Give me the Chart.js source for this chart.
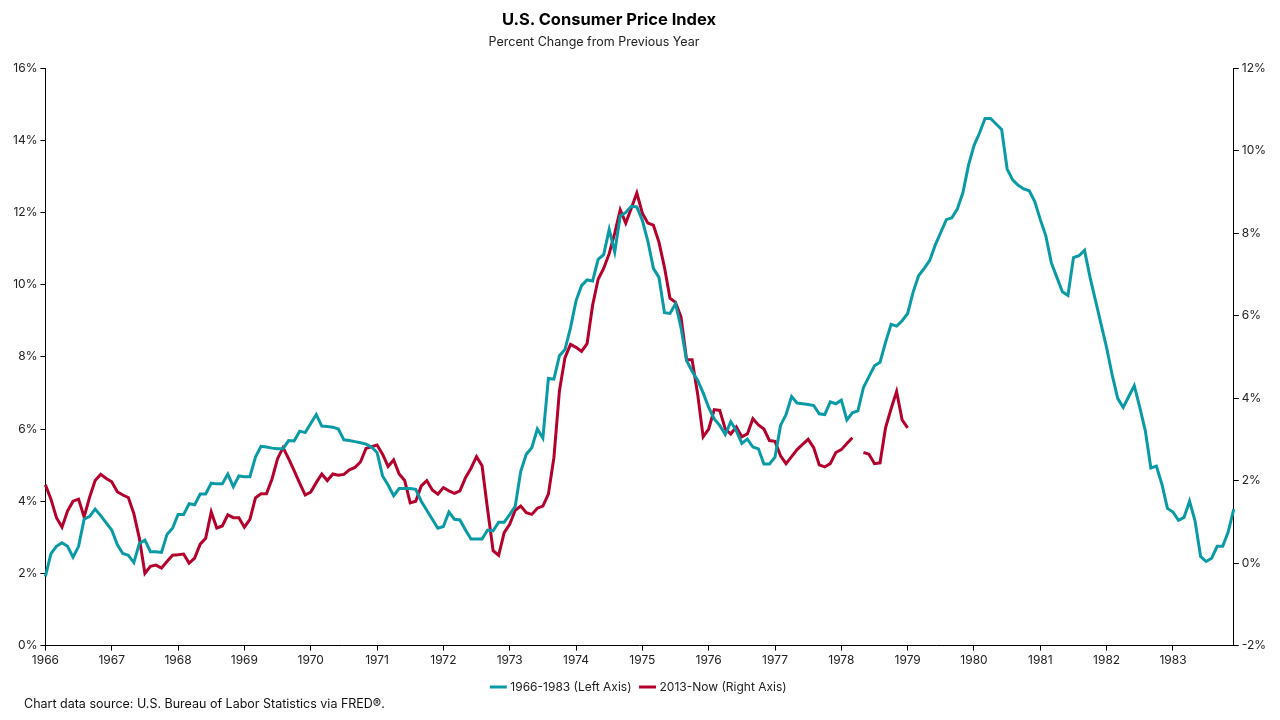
<!DOCTYPE html>
<html>
<head>
<meta charset="utf-8">
<script src="https://cdn.jsdelivr.net/npm/chart.js@4.4.1/dist/chart.umd.min.js"></script>
<style>
  html, body { margin: 0; padding: 0; background: #fff; }
  #wrap { position: relative; width: 1280px; height: 720px; }
  #titulo { position: absolute; left: 409px; width: 400px; top: 9px; text-align: center; font: bold 16.5px Inter, sans-serif; color: #000; }
  #subtitulo { position: absolute; left: 394px; width: 400px; top: 34px; text-align: center; font: 12.5px Inter, sans-serif; color: #222; }
  #fuente { position: absolute; left: 24px; top: 696px; font: 12.5px Inter, sans-serif; color: #111; }
</style>
</head>
<body>
<div id="wrap">
  <canvas id="cpiChart" width="1280" height="720"></canvas>
  <div id="titulo">U.S. Consumer Price Index</div>
  <div id="subtitulo">Percent Change from Previous Year</div>
  <div id="fuente">Chart data source: U.S. Bureau of Labor Statistics via FRED®.</div>
</div>
<script>
// ================= DATOS =================
const anios = [];
for (let a = 1966; a <= 1983; a++) anios.push(a);

// 1966-1983, variación anual (%), mensual
const serie1966 = [
  1.92, 2.55, 2.75, 2.85, 2.75, 2.45, 2.75, 3.5, 3.58, 3.78, 3.6, 3.4,
  3.2, 2.8, 2.55, 2.5, 2.3, 2.83, 2.92, 2.6, 2.6, 2.58, 3.08, 3.25,
  3.63, 3.63, 3.93, 3.9, 4.2, 4.2, 4.5, 4.48, 4.48, 4.75, 4.4, 4.7,
  4.68, 4.68, 5.22, 5.52, 5.5, 5.47, 5.45, 5.45, 5.68, 5.67, 5.94, 5.9,
  6.15, 6.4, 6.08, 6.07, 6.05, 6.0, 5.7, 5.68, 5.65, 5.62, 5.58, 5.5,
  5.35, 4.7, 4.45, 4.15, 4.35, 4.35, 4.35, 4.33, 4.0, 3.75, 3.5, 3.25,
  3.3, 3.7, 3.5, 3.48, 3.2, 2.95, 2.95, 2.95, 3.2, 3.18, 3.42, 3.42,
  3.63, 3.86, 4.83, 5.3, 5.48, 6.0, 5.75, 7.4, 7.38, 8.03, 8.2, 8.8,
  9.55, 9.97, 10.13, 10.1, 10.7, 10.83, 11.53, 10.9, 11.9, 12.0, 12.17, 12.15,
  11.78, 11.2, 10.45, 10.2, 9.22, 9.2, 9.47, 8.8, 7.9, 7.6, 7.35, 7.0,
  6.6, 6.28, 6.1, 5.85, 6.2, 5.95, 5.6, 5.72, 5.5, 5.45, 5.03, 5.03,
  5.22, 6.1, 6.4, 6.9, 6.72, 6.7, 6.68, 6.65, 6.42, 6.4, 6.75, 6.7,
  6.8, 6.25, 6.45, 6.5, 7.15, 7.45, 7.75, 7.85, 8.4, 8.9, 8.85, 9.0,
  9.2, 9.8, 10.25, 10.45, 10.67, 11.1, 11.45, 11.8, 11.85, 12.1, 12.55, 13.3,
  13.85, 14.2, 14.6, 14.6, 14.45, 14.3, 13.2, 12.9, 12.75, 12.65, 12.6, 12.3,
  11.8, 11.35, 10.6, 10.2, 9.8, 9.7, 10.75, 10.8, 10.95, 10.2, 9.55, 8.9,
  8.25, 7.5, 6.85, 6.6, 6.9, 7.2, 6.6, 5.95, 4.92, 4.97, 4.47, 3.8,
  3.7, 3.47, 3.55, 4.0, 3.45, 2.47, 2.33, 2.42, 2.75, 2.75, 3.15, 3.78
];

// 2013-hoy, variación anual (%), mensual (null = dato faltante)
const serie2013 = [
  1.9, 1.55, 1.1, 0.87, 1.26, 1.5, 1.55, 1.12, 1.6, 2.0, 2.15, 2.05,
  1.97, 1.73, 1.65, 1.59, 1.2, 0.6, -0.25, -0.08, -0.05, -0.12, 0.04, 0.19,
  0.2, 0.22, 0.0, 0.12, 0.46, 0.6, 1.24, 0.85, 0.9, 1.17, 1.1, 1.1,
  0.87, 1.06, 1.58, 1.68, 1.68, 2.04, 2.53, 2.8, 2.53, 2.24, 1.94, 1.65,
  1.72, 1.95, 2.16, 2.0, 2.16, 2.13, 2.15, 2.26, 2.32, 2.45, 2.78, 2.82,
  2.86, 2.64, 2.34, 2.5, 2.16, 2.0, 1.46, 1.5, 1.87, 2.0, 1.77, 1.67,
  1.83, 1.75, 1.69, 1.75, 2.07, 2.3, 2.58, 2.36, 1.3, 0.3, 0.19, 0.74,
  0.94, 1.28, 1.38, 1.22, 1.18, 1.33, 1.38, 1.67, 2.56, 4.18, 4.98, 5.3,
  5.23, 5.13, 5.32, 6.25, 6.88, 7.14, 7.5, 8.0, 8.56, 8.24, 8.6, 8.97,
  8.48, 8.24, 8.19, 7.78, 7.17, 6.42, 6.32, 5.96, 4.93, 4.93, 4.1, 3.06,
  3.25, 3.72, 3.7, 3.25, 3.13, 3.3, 3.06, 3.13, 3.5, 3.35, 3.25, 2.97,
  2.95, 2.6, 2.41, 2.58, 2.75, 2.88, 3.0, 2.8, 2.38, 2.33, 2.41, 2.68,
  2.75, 2.9, 3.04, null, 2.68, 2.64, 2.41, 2.43, 3.28, 3.74, 4.16, 3.47,
  3.28
];

const etiquetas = [];
anios.forEach(a => { for (let m = 0; m < 12; m++) etiquetas.push(m === 0 ? String(a) : ''); });

const colorTeal = '#0a9aa5';
const colorRojo = '#b4002c';

// ================= GRAFICA =================
Chart.defaults.font.family = 'Inter, sans-serif';
Chart.defaults.color = '#222';

const ctx = document.getElementById('cpiChart').getContext('2d');
new Chart(ctx, {
  type: 'line',
  data: {
    labels: etiquetas,
    datasets: [
      {
        label: '1966-1983 (Left Axis)',
        data: serie1966,
        borderColor: colorTeal,
        backgroundColor: colorTeal,
        borderWidth: 3,
        pointRadius: 0,
        tension: 0,
        yAxisID: 'y'
      },
      {
        label: '2013-Now (Right Axis)',
        data: serie2013,
        borderColor: colorRojo,
        backgroundColor: colorRojo,
        borderWidth: 3,
        pointRadius: 0,
        tension: 0,
        spanGaps: false,
        yAxisID: 'y2'
      }
    ]
  },
  options: {
    responsive: false,
    animation: false,
    layout: { padding: { left: 10, right: 11, top: 68, bottom: 17 } },
    plugins: {
      legend: {
        position: 'bottom',
        labels: {
          usePointStyle: true,
          pointStyle: 'line',
          boxWidth: 36,
          font: { size: 12 },
          color: '#222',
          padding: 10
        }
      },
      tooltip: { enabled: false }
    },
    scales: {
      x: {
        offset: false,
        grid: {
          drawOnChartArea: false,
          tickLength: 5,
          color: (c) => (c.index % 12 === 0 ? '#000' : 'rgba(0,0,0,0)')
        },
        border: { color: '#000', width: 1 },
        ticks: {
          autoSkip: false,
          maxRotation: 0,
          font: { size: 12 },
          color: '#222',
          callback: (v, i) => etiquetas[i]
        }
      },
      y: {
        position: 'left',
        min: 0,
        max: 16,
        grid: { drawOnChartArea: false, tickLength: 5, color: '#000' },
        border: { color: '#000', width: 1 },
        ticks: { stepSize: 2, font: { size: 12 }, color: '#222', callback: (v) => v + '%' }
      },
      y2: {
        position: 'right',
        min: -2,
        max: 12,
        grid: { drawOnChartArea: false, tickLength: 5, color: '#000' },
        border: { color: '#000', width: 1 },
        ticks: { stepSize: 2, font: { size: 12 }, color: '#222', callback: (v) => v + '%' }
      }
    }
  }
});
</script>
</body>
</html>
